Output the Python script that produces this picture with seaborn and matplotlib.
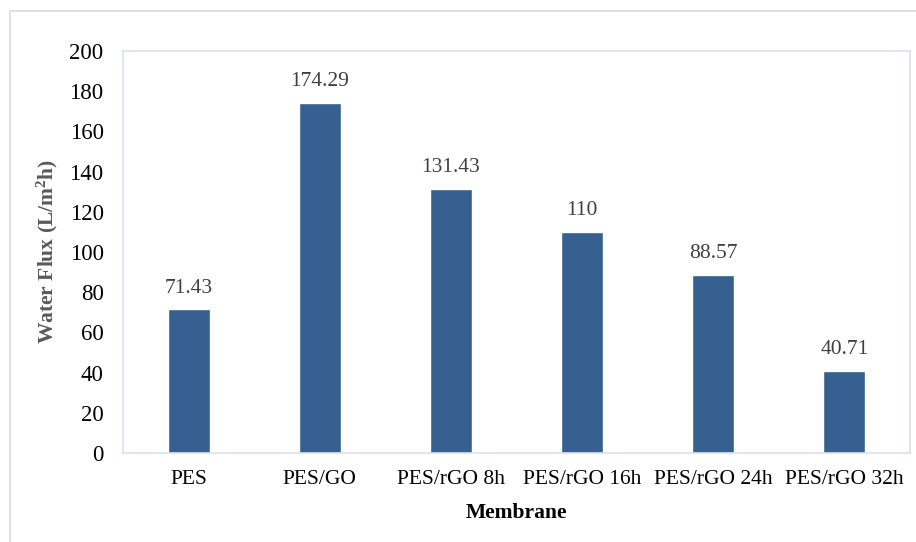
import matplotlib
matplotlib.use("Agg")
import matplotlib.pyplot as plt
import seaborn as sns
import pandas as pd
from matplotlib.patches import Rectangle

categories = ["PES", "PES/GO", "PES/rGO 8h", "PES/rGO 16h", "PES/rGO 24h", "PES/rGO 32h"]
values = [71.43, 174.29, 131.43, 110, 88.57, 40.71]
value_labels = ["71.43", "174.29", "131.43", "110", "88.57", "40.71"]
yticks = [0, 20, 40, 60, 80, 100, 120, 140, 160, 180, 200]

sns.set_theme(style="white")
plt.rcParams['font.family'] = ['Liberation Serif', 'DejaVu Serif']
plt.rcParams['mathtext.fontset'] = 'custom'
plt.rcParams['mathtext.rm'] = 'Liberation Serif'
plt.rcParams['mathtext.bf'] = 'Liberation Serif:bold'
plt.rcParams['mathtext.it'] = 'Liberation Serif:italic'

df = pd.DataFrame({"Membrane": categories, "Flux": values})

W, H = 916, 542
fig = plt.figure(figsize=(W / 100, H / 100), dpi=100)
ax = fig.add_axes([123 / W, 1 - 453 / H, (910 - 123) / W, (453 - 51) / H])

sns.barplot(data=df, x="Membrane", y="Flux", color="#36608F", saturation=1,
            width=0.32, ax=ax)

ax.set_ylim(0, 200)
ax.set_yticks(yticks)
ax.set_xlim(-0.5, len(categories) - 0.5)
ax.tick_params(axis="y", labelsize=16.5, colors="black", length=0, pad=14)
ax.tick_params(axis="x", labelsize=15.5, colors="black", length=0, pad=12)

for s in ax.spines.values():
    s.set_color("#D9E1F0")
    s.set_linewidth(1.2)
    s.set_visible(True)

for i, (v, lab) in enumerate(zip(values, value_labels)):
    ax.annotate(lab, (i, v), xytext=(0, 8.5), textcoords="offset points",
                ha="center", va="bottom", fontsize=15.5, color="#404040")

ax.set_xlabel("Membrane", fontsize=15.5, fontweight="bold", color="black", labelpad=10)
ax.set_ylabel("Water Flux (L/m$\\mathbf{^{2}}$h)", fontsize=15.5, fontweight="bold",
              color="#595959", labelpad=7)

fig.patches.append(Rectangle((10 / W, -0.05), 1.0, (H - 11) / H + 0.05,
                             transform=fig.transFigure, fill=False,
                             edgecolor="#D9D9D9", linewidth=1.2))

fig.savefig("out.png", dpi=100)
